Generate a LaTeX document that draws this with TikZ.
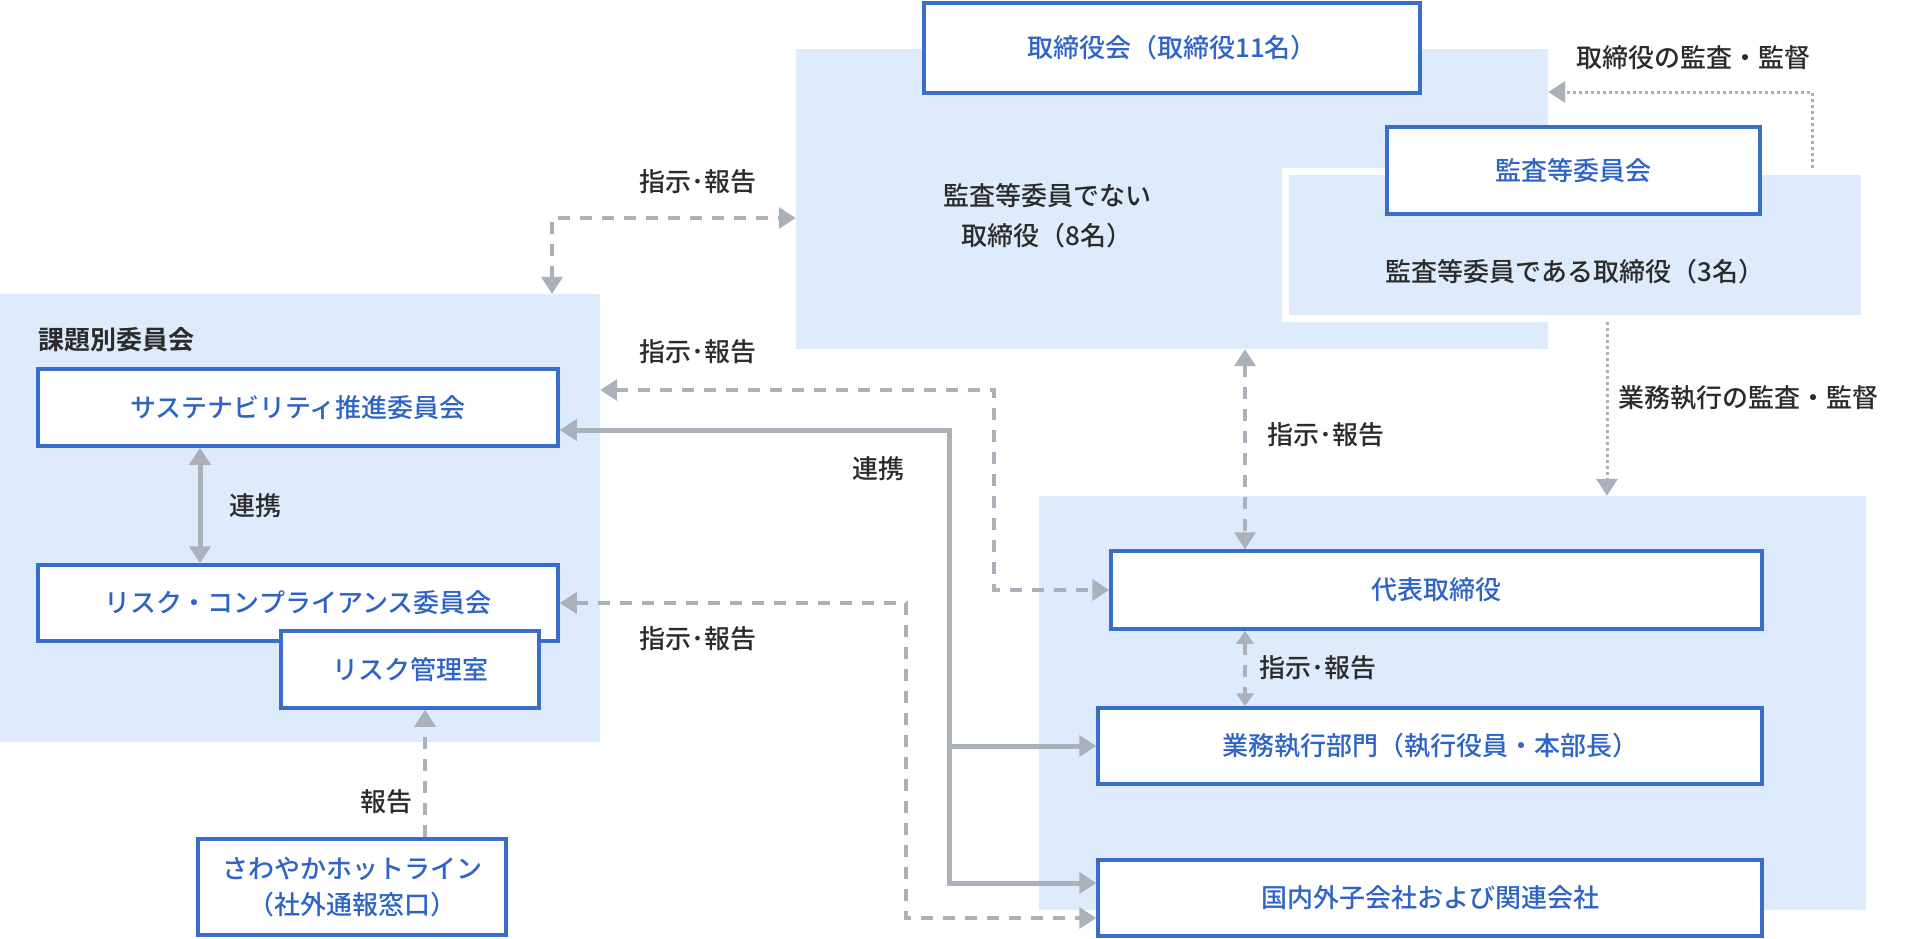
\documentclass[tikz,border=0pt]{standalone}
\usepackage{fontspec}
\setmainfont{Noto Sans CJK JP}[UprightFont=* Medium,BoldFont=* Bold]
\usetikzlibrary{arrows.meta,positioning}
\definecolor{areablue}{HTML}{DDEBFC}
\definecolor{boxblue}{HTML}{3A6DC9}
\definecolor{textblue}{HTML}{2F64C6}
\definecolor{arrowgray}{HTML}{AAB1BA}
\definecolor{labelgray}{HTML}{2B2B2B}

\begin{document}
\begin{tikzpicture}[x=1pt,y=-1pt,>={Triangle[length=17pt,width=21pt]},line join=miter,font=\fontsize{26}{32}\selectfont]
  \tikzstyle{area}=[fill=areablue,draw=none,inner sep=0pt]
  \tikzstyle{unit}=[draw=boxblue,line width=3.5pt,fill=white,text=textblue,inner sep=0pt]
  \tikzstyle{note}=[text=labelgray,inner sep=0pt]
  \tikzstyle{link}=[draw=arrowgray,line width=5pt]
  \tikzstyle{order}=[draw=arrowgray,line width=3.5pt,dash pattern=on 12pt off 10pt]
  \tikzstyle{audit}=[draw=arrowgray,line width=3pt,dash pattern=on 3pt off 3pt]

  \fill[white] (0,0) rectangle (1920,938);
  \useasboundingbox (0,0) rectangle (1920,938);

  % areas
  \node[area,minimum width=752pt,minimum height=300pt] (boardarea) at (1172,199) {};
  \node[area,minimum width=600pt,minimum height=448pt] (topicarea) at (300,518) {};
  \node[area,minimum width=827pt,minimum height=414pt] (execarea) at (1452.5,703) {};
  \node[area,draw=white,line width=7pt,minimum width=579pt,minimum height=147pt] (auditarea) at (1575,245) {};

  % boxes
  \node[unit,minimum width=496pt,minimum height=90pt] (board) at (1172,48) {取締役会（取締役11名）};
  \node[unit,minimum width=373pt,minimum height=87pt] (auditcom) at (1573.5,170.5) {監査等委員会};
  \node[unit,minimum width=520pt,minimum height=77pt] (sust) at (298,407.5) {サステナビリティ推進委員会};
  \node[unit,minimum width=520pt,minimum height=76pt] (riskcomp) at (298,603) {リスク・コンプライアンス委員会};
  \node[unit,minimum width=258pt,minimum height=77pt] (riskmgmt) at (410,669.5) {リスク管理室};
  \node[unit,minimum width=308pt,minimum height=96pt,align=center,font=\fontsize{26}{36}\selectfont] (hotline) at (352,887) {さわやかホットライン\\（社外通報窓口）};
  \node[unit,minimum width=651pt,minimum height=78pt] (daihyo) at (1436.5,590) {代表取締役};
  \node[unit,minimum width=664pt,minimum height=76pt] (gyomu) at (1430,746) {業務執行部門（執行役員・本部長）};
  \node[unit,minimum width=664pt,minimum height=76pt] (kokunai) at (1430,898) {国内外子会社および関連会社};

  % texts
  \node[note,anchor=west,font=\fontsize{26}{32}\selectfont\bfseries] (topic) at (38,340) {課題別委員会};
  \node[note,align=center,font=\fontsize{26}{40}\selectfont] (nonaudit) at (1047,216) {監査等委員でない\\取締役（8名）};
  \node[note] (auditdir) at (1575,272) {監査等委員である取締役（3名）};
  \node[note] (lbl1) at (698,182) {指示･報告};
  \node[note] (lbl2) at (698,352) {指示･報告};
  \node[note] (lbl3) at (698,639) {指示･報告};
  \node[note] (lbl4) at (878,469) {連携};
  \node[note] (lbl5) at (1326,435) {指示･報告};
  \node[note] (lbl6) at (1318,668) {指示･報告};
  \node[note] (lbl7) at (255,506) {連携};
  \node[note] (lbl8) at (386,802) {報告};
  \node[note] (lbl9) at (1693,58) {取締役の監査・監督};
  \node[note] (lbl10) at (1748,398) {業務執行の監査・監督};

  % connectors
  \coordinate (bendA) at (552,218);
  \coordinate (bendB) at (994,390);
  \coordinate (bendC) at (949,430);
  \coordinate (bendD) at (949,883);
  \coordinate (bendE) at (906,603);
  \coordinate (bendF) at (906,918);
  \coordinate (linkx) at (200,0);
  \coordinate (reportx) at (425,0);
  \coordinate (orderx) at (1245,0);
  \coordinate (auditx) at (1812,92);
  \coordinate (execx) at (1607,0);

  \draw[order,<->] (topicarea.north -| bendA) -- (bendA) -- (boardarea.west |- bendA);
  \draw[order,<->] (topicarea.east |- bendB) -- (bendB) -- (bendB |- daihyo.west) -- (daihyo.west);
  \draw[link,<->] (sust.east |- bendC) -- (bendC) -- (bendD) -- (kokunai.west |- bendD);
  \draw[link,->] (bendC |- gyomu.west) -- (gyomu.west);
  \draw[order,<->] (riskcomp.east |- bendE) -- (bendE) -- (bendF) -- (kokunai.west |- bendF);
  \draw[link,<->] (sust.south -| linkx) -- (riskcomp.north -| linkx);
  \draw[order,->] (hotline.north -| reportx) -- (riskmgmt.south -| reportx);
  \draw[order,<->] (boardarea.south -| orderx) -- (daihyo.north -| orderx);
  \draw[order,<->,>={Triangle[length=13pt,width=17pt]}] (daihyo.south -| orderx) -- (gyomu.north -| orderx);
  \draw[audit,->] (auditarea.north -| auditx) -- (auditx) -- (boardarea.east |- auditx);
  \draw[audit,->] (auditarea.south -| execx) -- (execarea.north -| execx);
\end{tikzpicture}
\end{document}
